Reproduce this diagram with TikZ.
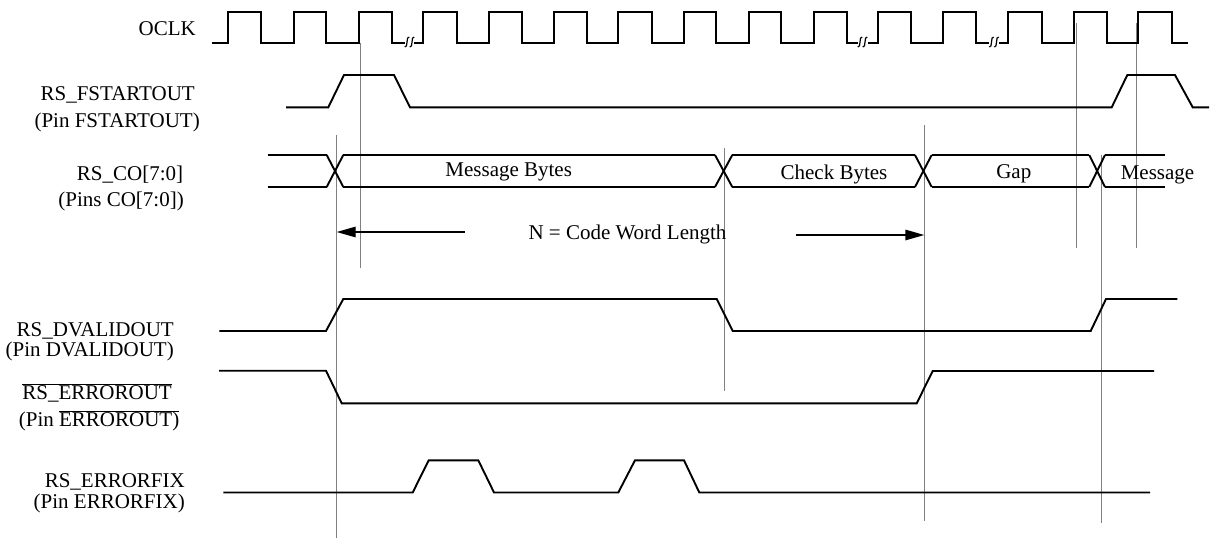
\documentclass[tikz,border=0pt]{standalone}
\usepackage{fontspec}
\setmainfont{Liberation Serif}
\usetikzlibrary{arrows.meta}
\definecolor{guidegray}{RGB}{128,128,128}
\begin{document}
\begin{tikzpicture}[x=1pt,y=-1pt,
  wave/.style={line width=1.9pt, line join=miter},
  lanethin/.style={line width=1.2pt},
  lanethick/.style={line width=1.9pt},
  guide/.style={line width=0.9pt, draw=guidegray},
  brk/.style={line width=1.2pt},
  lbl/.style={font=\fontsize{21}{24}\selectfont, inner sep=0pt},
  dim/.style={line width=1.4pt, -{Triangle[length=19pt,width=10.5pt]}}]
\useasboundingbox (0,0) rectangle (1210,538);

% ---- reference (guide) lines ----
\draw[guide] (336.7,135) -- (336.7,538);
\draw[guide] (360.7,43) -- (360.7,268);
\draw[guide] (724.3,148) -- (724.3,391);
\draw[guide] (924.3,125) -- (924.3,521);
\draw[guide] (1076.5,23) -- (1076.5,248);
\draw[guide] (1101,155) -- (1101,523);
\draw[guide] (1136.7,23) -- (1136.7,248);

% ---- OCLK with three time breaks ----
\def\lo{43.3}\def\hi{11.7}
\draw[wave] (211.7,\lo)
  \foreach \r/\f in {228.3/260.7, 294/326, 359.3/391.7}
    { -- (\r,\lo) -- (\r,\hi) -- (\f,\hi) -- (\f,\lo) } -- (405,\lo);
\draw[wave] (414,\lo)
  \foreach \r/\f in {423.3/456.7, 489.3/521.7, 554.3/586.7, 618.3/651.7,
                     684/716, 749.3/780.7, 814/846.7}
    { -- (\r,\lo) -- (\r,\hi) -- (\f,\hi) -- (\f,\lo) } -- (857.5,\lo);
\draw[wave] (868,\lo)
  \foreach \r/\f in {878.3/910.7, 943.3/976}
    { -- (\r,\lo) -- (\r,\hi) -- (\f,\hi) -- (\f,\lo) } -- (989,\lo);
\draw[wave] (999,\lo)
  \foreach \r/\f in {1008.3/1041.7, 1074/1106.7, 1138.3/1171.7}
    { -- (\r,\lo) -- (\r,\hi) -- (\f,\hi) -- (\f,\lo) } -- (1188.3,\lo);
\foreach \c in {407,412, 860,865, 991.5,996.5}
  \draw[brk] (\c-2.2,47) .. controls (\c+1.2,48.5) and (\c-1.2,35.5) .. (\c+2.2,37);

% ---- RS_FSTARTOUT ----
\draw[wave] (286,107.3) -- (328.3,107.3) -- (344,75) -- (394,75) -- (410,107.3)
  -- (1111.7,107.3) -- (1127.3,75) -- (1175,75) -- (1192.7,107.3) -- (1209,107.3);

% ---- RS_CO[7:0] bus ----
\foreach \y in {155,187} {
  \foreach \a/\b in {267.7/326.7, 343.3/715, 732.3/915, 931.7/1089.3, 1105/1165}
    \draw[lanethin] (\a,\y) -- (\b,\y);
  \foreach \a/\b in {267.7/326.7, 343.3/401.7, 655/715, 732.3/792, 855/915,
                     931.7/990, 1031.7/1089.3, 1105/1165}
    \draw[lanethick] (\a,\y) -- (\b,\y);
}
\foreach \a/\b in {326.7/343.3, 715/732.3, 915/931.7, 1089.3/1105} {
  \draw[lanethick] (\a,155) -- (\b,187);
  \draw[lanethick] (\a,187) -- (\b,155);
}
\node[lbl, anchor=base] (msg)   at (508.7,176) {Message Bytes};
\node[lbl, anchor=base] (chk)   at (834,179)   {Check Bytes};
\node[lbl, anchor=base] (gap)   at (1013.8,178.5) {Gap};
\node[lbl, anchor=base] (msg2)  at (1157.5,179) {Message};

% ---- code word length dimension ----
\coordinate (cwL) at (336.7,232);
\coordinate (cwLtail) at (465,232);
\coordinate (cwR) at (924.3,235);
\coordinate (cwRtail) at (796,235);
\draw[dim] (cwLtail) -- (cwL);
\draw[dim] (cwRtail) -- (cwR);
\node[lbl, anchor=base west] (cwtext) at (528.3,239) {N = Code Word Length};

% ---- RS_DVALIDOUT ----
\draw[wave] (219.3,331) -- (326,331) -- (343.3,299) -- (716.7,299) -- (732.7,331)
  -- (1090.7,331) -- (1106,299) -- (1177.3,299);

% ---- RS_ERROROUT (active low) ----
\draw[wave] (219,370.7) -- (326,370.7) -- (341.7,403.3) -- (916.7,403.3)
  -- (932.7,371) -- (1154,371);

% ---- RS_ERRORFIX ----
\draw[wave] (223.3,492.5) -- (412.7,492.5) -- (428.7,460.3) -- (478.3,460.3)
  -- (494,492.5) -- (618.3,492.5) -- (635,460.3) -- (684,460.3) -- (699.3,492.5)
  -- (1150,492.5);

% ---- signal names ----
\node[lbl, anchor=base east] (oclk)  at (196,35)    {OCLK};
\node[lbl, anchor=base east] (fs)    at (195,100.7) {RS\_FSTARTOUT};
\node[lbl, anchor=base east] (fsp)   at (200,127.5) {(Pin FSTARTOUT)};
\node[lbl, anchor=base east] (co)    at (183.3,180) {RS\_CO[7:0]};
\node[lbl, anchor=base east] (cop)   at (184,206.7) {(Pins CO[7:0])};
\node[lbl, anchor=base east] (dv)    at (174,336)   {RS\_DVALIDOUT};
\node[lbl, anchor=base east] (dvp)   at (174,356)   {(Pin DVALIDOUT)};
\node[lbl, anchor=base east] (eo)    at (172,399.3) {$\overline{\mbox{RS\_ERROROUT}}$};
\node[lbl, anchor=base east] (eop)   at (179.5,426.7) {(Pin $\overline{\mbox{ERROROUT)}}$};
\node[lbl, anchor=base east] (ef)    at (185,487.3) {RS\_ERRORFIX};
\node[lbl, anchor=base east] (efp)   at (185,508.3) {(Pin ERRORFIX)};
\end{tikzpicture}
\end{document}
